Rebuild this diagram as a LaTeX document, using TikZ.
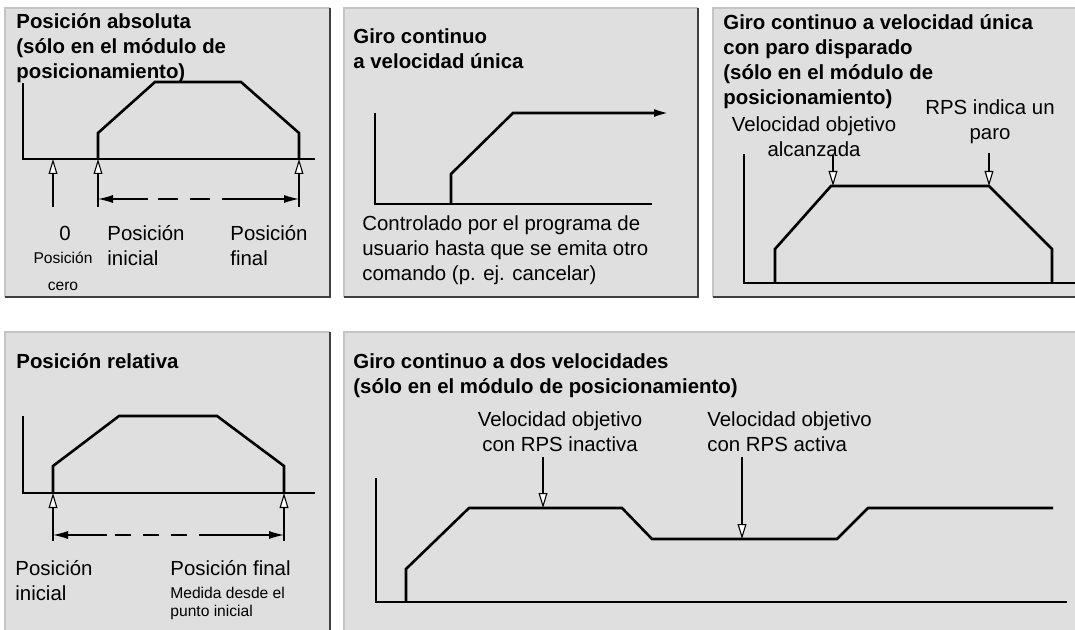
\documentclass[tikz,border=0pt]{standalone}
\usepackage{fontspec}
\setmainfont{Liberation Sans}
\usetikzlibrary{arrows.meta,positioning}

\definecolor{panelgray}{HTML}{DFDFDF}
\definecolor{edgelight}{HTML}{C4C4C4}
\definecolor{edgedark}{HTML}{3F3F3F}
\newcommand{\pnltitle}{\fontsize{10.2}{12.5}\selectfont\bfseries}
\newcommand{\pnltext}{\fontsize{10.2}{12.5}\selectfont}
\newcommand{\pnlnote}{\fontsize{7.8}{9}\selectfont}

\tikzset{
  paneltitle/.style={font=\pnltitle, anchor=north west, inner sep=0pt, align=left},
  paneltext/.style={font=\pnltext, anchor=north west, inner sep=0pt, align=left},
  axis/.style={line width=0.6pt},
  profile/.style={line width=1.3pt, line join=miter},
  marker/.style={-{Triangle[fill=white, length=7.5pt, width=4.4pt]}, line width=0.55pt},
  span/.style={{Latex[length=7.5pt,width=4pt]}-{Latex[length=7.5pt,width=4pt]}, line width=0.6pt},
}

\begin{document}
\begin{tikzpicture}[x=0.5pt,y=-0.5pt,>=Latex]
    \fill[white] (0,0) rectangle (1075,630);
    \useasboundingbox (0,0) rectangle (1075,630);
    \clip (0,0) rectangle (1075,630);
    % the five panels
    \foreach \xa/\ya/\xb/\yb in {5/8/330/297,344/8/698/297,713/8/1090/297,5/332/330/645,344/332/1090/645}{
        \fill[panelgray] (\xa,\ya) rectangle (\xb,\yb);
        \draw[edgelight,line width=1pt] (\xa,\yb) -- (\xa,\ya) -- (\xb,\ya);
        \draw[edgedark,line width=1pt] (\xb,\ya) -- (\xb,\yb) -- (\xa,\yb);
    }

    % absolute position
    \node[paneltitle] (abstitle) at (16,10.5) {\strut Posición absoluta\\(sólo en el módulo de\\posicionamiento)};
    \draw[axis] (23,83) -- (23,159) -- (315,159);
    \coordinate (absstart) at (98,159);
    \coordinate (absend) at (299,159);
    \draw[profile] (absstart) -- (98,133) -- (155,82) -- (241,82) -- (299,133) -- (absend);
    \coordinate (abszero) at (53,159);
    \coordinate (abszerofoot) at (53,207);
    \coordinate (absstartfoot) at (98,207);
    \coordinate (absendfoot) at (299,207);
    \draw[marker] (abszerofoot) -- (abszero);
    \draw[marker] (absstartfoot) -- (absstart);
    \draw[marker] (absendfoot) -- (absend);
    \coordinate (absspanl) at (98,199);
    \coordinate (absspanr) at (299,199);
    \draw[span, dash pattern=on 18pt off 5pt on 10pt off 6pt on 10pt off 6pt on 60pt] (absspanl) -- (absspanr);
    \node[paneltext, anchor=north] (zero) at (65,222.5) {\strut 0};
    \node[font=\fontsize{7.8}{13.5}\selectfont, anchor=north, inner sep=0pt, align=center] (zeronote) at (63,244) {\strut Posición\\cero};
    \node[paneltext] (absinit) at (107,222.5) {\strut Posición\\inicial};
    \node[paneltext] (absfinal) at (230,222.5) {\strut Posición\\final};

    % continuous run, one speed
    \node[paneltitle] (runtitle) at (353,25.5) {\strut Giro continuo\\a velocidad única};
    \draw[axis] (375,113) -- (375,204) -- (652,204);
    \coordinate (runstart) at (451,204);
    \coordinate (runend) at (669,113);
    \draw[profile, -{Latex[length=7.5pt,width=4pt]}] (runstart) -- (451,174) -- (513,113) -- (runend);
    \node[paneltext] (runnote) at (362,212.5) {\strut Controlado por el programa de\\usuario hasta que se emita otro\\comando (p. ej. cancelar)};

    % continuous run with triggered stop
    \node[paneltitle] (stoptitle) at (723,12) {\strut Giro continuo a velocidad única\\con paro disparado\\(sólo en el módulo de\\posicionamiento)};
    \draw[axis] (744,154) -- (744,283) -- (1085,283);
    \coordinate (stopreach) at (833,186);
    \coordinate (stopsignal) at (989,186);
    \draw[profile] (775,283) -- (775,249) -- (831,186) -- (stopsignal) -- (1052,249) -- (1052,283);
    \node[paneltext, anchor=north, align=center] (reachtext) at (814,113.5) {\strut Velocidad objetivo\\alcanzada};
    \node[paneltext, anchor=north, align=center] (signaltext) at (990,96.5) {\strut RPS indica un\\paro};
    \coordinate (reachfoot) at (833,155);
    \coordinate (signalfoot) at (989,153);
    \draw[marker] (reachfoot) -- (stopreach);
    \draw[marker] (signalfoot) -- (stopsignal);

    % relative position
    \node[paneltitle] (reltitle) at (16,351) {\strut Posición relativa};
    \draw[axis] (23,416) -- (23,493) -- (315,493);
    \coordinate (relstart) at (53,493);
    \coordinate (relend) at (284,493);
    \draw[profile] (relstart) -- (53,466) -- (119,416) -- (217,416) -- (284,466) -- (relend);
    \coordinate (relstartfoot) at (53,541);
    \coordinate (relendfoot) at (284,541);
    \draw[marker] (relstartfoot) -- (relstart);
    \draw[marker] (relendfoot) -- (relend);
    \coordinate (relspanl) at (53,535);
    \coordinate (relspanr) at (284,535);
    \draw[span, dash pattern=on 20pt off 4pt on 8pt off 6pt on 8pt off 6pt on 8pt off 6pt on 60pt] (relspanl) -- (relspanr);
    \node[paneltext] (relinit) at (15,557.5) {\strut Posición\\inicial};
    \node[paneltext] (relfinal) at (170,557.5) {\strut Posición final};
    \node[font=\pnlnote, anchor=north west, inner sep=0pt, align=left] (relnote) at (170,585.4) {\strut Medida desde el\\punto inicial};

    % continuous run, two speeds
    \node[paneltitle] (twotitle) at (353,351) {\strut Giro continuo a dos velocidades\\(sólo en el módulo de posicionamiento)};
    \draw[axis] (376,478) -- (376,602) -- (1067,602);
    \coordinate (fastlevel) at (543,508);
    \coordinate (slowlevel) at (742,539);
    \draw[profile] (406,602) -- (406,569) -- (469,508) -- (622,508) -- (652,539) -- (837,539) -- (868,508) -- (1053,508);
    \node[paneltext, anchor=north, align=center] (fasttext) at (560,408.5) {\strut Velocidad objetivo\\con RPS inactiva};
    \node[paneltext] (slowtext) at (707,408.5) {\strut Velocidad objetivo\\con RPS activa};
    \coordinate (fastfoot) at (543,457);
    \coordinate (slowfoot) at (742,457);
    \draw[marker] (fastfoot) -- (fastlevel);
    \draw[marker] (slowfoot) -- (slowlevel);
\end{tikzpicture}
\end{document}
